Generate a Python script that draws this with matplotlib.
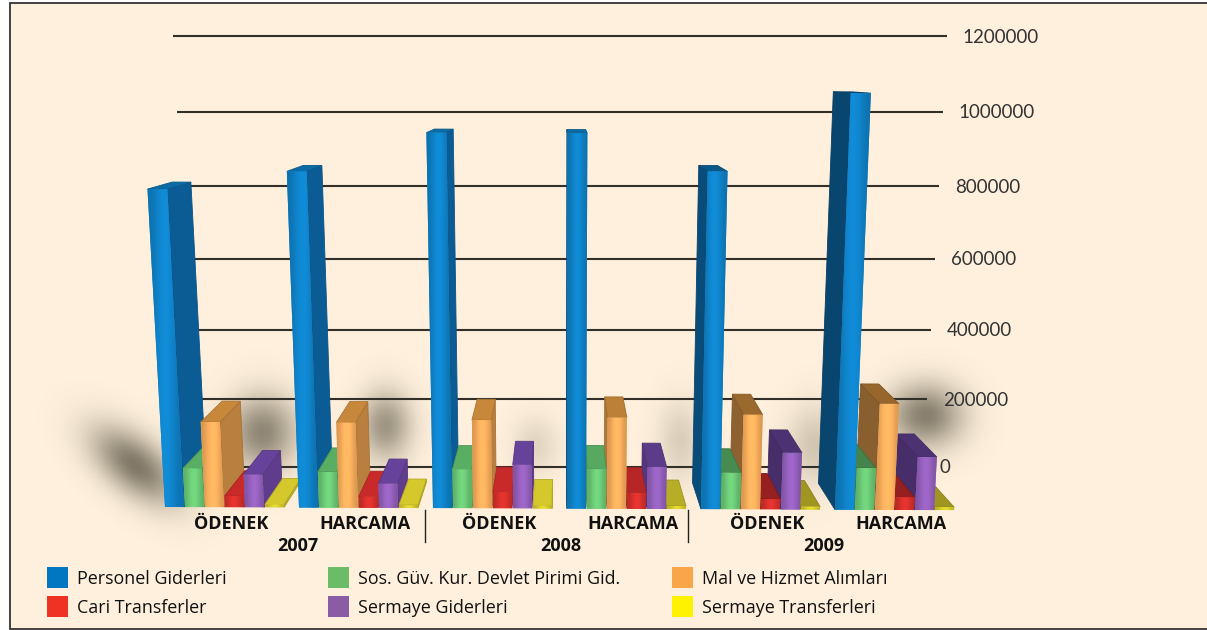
import numpy as np
import matplotlib
matplotlib.use("Agg")
from matplotlib import pyplot as plt
from matplotlib.colors import to_rgb
from matplotlib.patches import Polygon, Rectangle

# values in thousands, one entry per group
groups = ["ÖDENEK", "HARCAMA", "ÖDENEK", "HARCAMA", "ÖDENEK", "HARCAMA"]
years = ["2007", "2008", "2009"]
personel = [821, 866, 962, 962, 870, 1062]
sos_guv = [104, 96, 104, 106, 98, 112]
mal_hizmet = [227, 227, 235, 243, 252, 282]
cari = [30, 30, 43, 43, 28, 34]
sermaye_gid = [88, 65, 117, 113, 152, 142]
sermaye_tr = [8, 8, 8, 8, 8, 8]
ticks = [0, 200, 400, 600, 800, 1000, 1200]

series = [personel, sos_guv, mal_hizmet, cari, sermaye_gid, sermaye_tr]
names = ["Personel Giderleri", "Sos. Güv. Kur. Devlet Pirimi Gid.", "Mal ve Hizmet Alımları",
         "Cari Transferler", "Sermaye Giderleri", "Sermaye Transferleri"]
legend_colors = ["#0077c0", "#6abd66", "#f9a54a", "#ee3224", "#8a5ca5", "#fff200"]
front_colors = ["#0f82c8", "#6cc976", "#f9ae5c", "#d8302c", "#9460bc", "#d8cc2c"]
side_colors = ["#0b5c94", "#52a45c", "#b87f3e", "#b8262a", "#5f3c8c", "#b8ae28"]
top_colors = ["#0b6ba5", "#5aae64", "#c8883c", "#c82a2a", "#67429a", "#d4c82c"]

BG = "#fef0dc"
VP_X, VP_Y = 560, 72   # vanishing point of the depth lines
BASE_Y = 507
BAR_W = 19
BAR_DEPTH = 0.06
WALL_DEPTH = 0.092


def height_px(v):
    return 0.37 * v + 2.1e-5 * v * v


def project(x0, v, depth):
    # bar foot x0 + value + depth -> picture position
    xf = x0 + (x0 - VP_X) * 5.4e-5 * v
    yf = BASE_Y + 0.004 * (x0 - 165) - height_px(v)
    return xf + depth * (VP_X - xf), yf + depth * (VP_Y - yf)


def shade(color, f):
    return tuple(min(1, c * f) for c in to_rgb(color))


def shadow(ax, cx, cy, sx, sy, alpha, tilt=0.0):
    # soft dark blob behind the bars
    x0, x1 = int(cx - 4 * sx), int(cx + 4 * sx)
    pad = 4 * sy + abs(tilt) * 4 * sx
    y0, y1 = int(cy - pad), int(cy + pad)
    xx, yy = np.meshgrid(np.arange(x0, x1), np.arange(y0, y1))
    dx = xx - cx
    dy = yy - cy - tilt * dx
    a = alpha * np.exp(-dx**2 / (2 * sx**2) - dy**2 / (2 * sy**2))
    img = np.zeros(a.shape + (4,))
    img[..., :3] = (0.38, 0.35, 0.29)
    img[..., 3] = a
    ax.imshow(img, extent=(x0, x1, y1, y0), aspect="auto", zorder=1, interpolation="bilinear")


def draw_bar(ax, x0, v, j, z):
    x1 = x0 + BAR_W
    a = project(x0, 0, 0)
    b = project(x1, 0, 0)
    c = project(x1, v, 0)
    d = project(x0, v, 0)
    a2 = project(x0, 0, BAR_DEPTH)
    b2 = project(x1, 0, BAR_DEPTH)
    c2 = project(x1, v, BAR_DEPTH)
    d2 = project(x0, v, BAR_DEPTH)

    # right hand bars show their left side, darker the further out they are
    dark = 1 - 0.25 * np.clip((x0 - VP_X) / 200, 0, 1)
    side_col = shade(side_colors[j], dark)
    top_col = shade(top_colors[j], dark)
    side = [b, c, c2, b2] if x0 + BAR_W / 2 < VP_X else [a, d, d2, a2]
    ax.add_patch(Polygon(side, closed=True, fc=side_col, ec=shade(side_col, 0.9), lw=0.6, zorder=z))
    ax.add_patch(Polygon([d, c, c2, d2], closed=True, fc=top_col, ec=shade(top_col, 0.85),
                         lw=0.6, zorder=z + 0.1))

    # front face with a lit middle
    poly = Polygon([a, b, c, d], closed=True, fc=front_colors[j], ec="none", zorder=z + 0.2)
    ax.add_patch(poly)
    xs = [a[0], b[0], c[0], d[0]]
    ys = [a[1], b[1], c[1], d[1]]
    t = np.linspace(0, 1, 32)
    f = 0.88 + 0.2 * np.sin(np.pi * t) ** 2
    rgb = np.array(to_rgb(front_colors[j]))
    img = np.clip(f[None, :, None] * rgb[None, None, :], 0, 1)
    im = ax.imshow(img, extent=(min(xs), max(xs), max(ys), min(ys)), aspect="auto", zorder=z + 0.3)
    im.set_clip_path(poly)


fig = plt.figure(figsize=(12.07, 6.3), dpi=100, facecolor="white")
ax = fig.add_axes([0, 0, 1, 1])
ax.axis("off")

frame = Rectangle((10, 3), 1200, 626, fc=BG, ec="#333333", lw=1.3, zorder=0)
ax.add_patch(frame)

shadow(ax, 135, 465, 30, 22, 0.8, tilt=0.5)
shadow(ax, 262, 432, 24, 26, 0.7)
shadow(ax, 385, 425, 18, 24, 0.6)
shadow(ax, 535, 445, 16, 20, 0.18)
shadow(ax, 680, 440, 16, 28, 0.22)
shadow(ax, 815, 445, 20, 28, 0.28)
shadow(ax, 925, 415, 26, 22, 0.75)

# grid on the back wall
WALL_L, WALL_R = 160, 960
for v in ticks:
    xl, _ = project(WALL_L, v, WALL_DEPTH)
    xr, _ = project(WALL_R, v, WALL_DEPTH)
    _, y = project(165, v, WALL_DEPTH)
    ax.plot([xl, xr], [y, y], color="#33302a", lw=1.5, zorder=2, solid_capstyle="butt")
    ax.text(xr + 16, y + 1, str(v * 1000), fontsize=13.5, family="Lato", color="#333333",
            va="center", ha="left", zorder=3)

# paint outer bars first so the ones nearer the middle cover them
bars = []
for i in range(len(groups)):
    for j in range(len(series)):
        x0 = 165 + 134 * i + 20 * j
        bars.append((abs(x0 + BAR_W / 2 - VP_X), x0, series[j][i], j))
bars.sort(key=lambda b: -b[0])
for n, (_, x0, v, j) in enumerate(bars):
    draw_bar(ax, x0, v, j, 5 + n)

# category labels
for i, g in enumerate(groups):
    ax.text(231 + 134 * i, 524, g, fontsize=13, family="Open Sans", weight="bold", color="#111111",
            ha="center", va="center", zorder=100)
for i, y in enumerate(years):
    ax.text(298 + 263 * i, 546, y, fontsize=13, family="Open Sans", weight="bold", color="#111111",
            ha="center", va="center", zorder=100)
for i in range(2):
    ax.plot([425 + 263 * i] * 2, [510, 542], color="#222222", lw=1, zorder=100)

# legend
for k, name in enumerate(names):
    col, row = k % 3, k // 3
    lx = [47, 328, 672][col]
    ly = 567 + 29 * row
    ax.add_patch(Rectangle((lx, ly), 21, 21, fc=legend_colors[k], ec="none", zorder=100))
    ax.text(lx + 30, ly + 12, name, fontsize=12.9, family="Open Sans", color="#111111",
            ha="left", va="center", zorder=100)

ax.set_xlim(0, 1207)
ax.set_ylim(630, 0)
fig.savefig("out.png", dpi=100, facecolor="white")
